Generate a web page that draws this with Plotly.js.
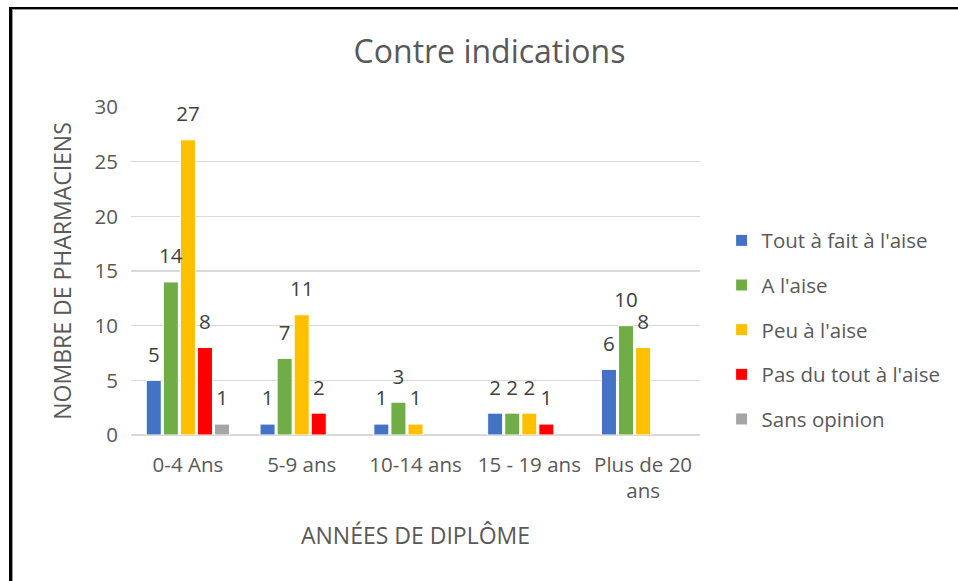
<!DOCTYPE html>
<html>
<head>
<meta charset="utf-8">
<script src="https://cdn.plot.ly/plotly-3.0.1.min.js"></script>
<style>
  html, body { margin: 0; padding: 0; background: #fff; }
  #wrap { position: relative; width: 958px; height: 581px; overflow: hidden; }
  #chart { width: 958px; height: 581px; }
  #frame { position: absolute; left: 9px; top: 7px; width: 960px; height: 590px;
           border-left: 3px solid #000; border-top: 2px solid #000;
           box-shadow: inset 1px 1px 0 #9a9a9a; pointer-events: none; }
</style>
</head>
<body>
<div id="wrap">
  <div id="chart"></div>
  <div id="frame"></div>
</div>
<script>
const categories = ["0-4 Ans", "5-9 ans", "10-14 ans", "15 - 19 ans", "Plus de 20<br>ans"];

const seriesNames = ["Tout à fait à l'aise", "A l'aise", "Peu à l'aise", "Pas du tout à l'aise", "Sans opinion"];

const toutAFaitALaise = [5, 1, 1, 2, 6];
const aLaise = [14, 7, 3, 2, 10];
const peuALaise = [27, 11, 1, 2, 8];
const pasDuToutALaise = [8, 2, 0, 1, 0];
const sansOpinion = [1, 0, 0, 0, 0];

const seriesValues = [toutAFaitALaise, aLaise, peuALaise, pasDuToutALaise, sansOpinion];
const seriesColors = ["#4472C4", "#70AD47", "#FFC000", "#FF0000", "#A5A5A5"];

const FONT = "Open Sans, sans-serif";
const TXT = "#595959";

const traces = [];
seriesValues.forEach((vals, i) => {
  traces.push({
    type: "bar",
    name: seriesNames[i],
    x: categories,
    y: vals.map(v => v === 0 ? null : v),
    offsetgroup: "g" + i,
    legendgroup: "g" + i,
    marker: { color: seriesColors[i], line: { color: "#ffffff", width: 1 } },
    hoverinfo: "skip"
  });
});
seriesValues.forEach((vals, i) => {
  traces.push({
    type: "scatter",
    mode: "markers+text",
    x: categories,
    y: vals,
    text: vals.map(v => v === 0 ? "" : String(v)),
    textposition: "top center",
    textfont: { family: FONT, size: 20.5, color: "#404040" },
    marker: { size: 20, color: "rgba(0,0,0,0)" },
    offsetgroup: "g" + i,
    legendgroup: "g" + i,
    showlegend: false,
    hoverinfo: "skip",
    cliponaxis: false
  });
});

const layout = {
  width: 958,
  height: 581,
  margin: { l: 131, r: 258, t: 107, b: 146 },
  paper_bgcolor: "#ffffff",
  plot_bgcolor: "#ffffff",
  barmode: "group",
  scattermode: "group",
  bargap: 0.25,
  bargroupgap: 0.12,
  scattergap: 0.25,
  font: { family: FONT, color: TXT, size: 20.5 },
  title: {
    text: "Contre indications",
    font: { family: FONT, size: 32, color: TXT },
    x: 0.511, xref: "container", xanchor: "center",
    y: 0.91, yref: "container", yanchor: "middle"
  },
  xaxis: {
    type: "category",
    tickfont: { family: FONT, size: 20.5, color: TXT },
    showgrid: false,
    showline: false,
    ticks: "",
    ticklabelstandoff: 15,
    title: { text: "ANNÉES DE DIPLÔME", font: { family: FONT, size: 23, color: TXT }, standoff: 24 }
  },
  yaxis: {
    range: [0, 30],
    dtick: 5,
    tick0: 0,
    showgrid: true,
    gridcolor: "#D9D9D9",
    gridwidth: 1.3,
    zeroline: true,
    zerolinecolor: "#D9D9D9",
    zerolinewidth: 1.3,
    showline: false,
    ticks: "",
    ticklabelstandoff: 12,
    tickfont: { family: FONT, size: 20.5, color: TXT },
    title: { text: "NOMBRE DE PHARMACIENS", font: { family: FONT, size: 23, color: TXT }, standoff: 16 },
    fixedrange: true
  },
  legend: {
    x: 1.038, xanchor: "left",
    y: 0.32, yanchor: "middle",
    traceorder: "grouped",
    tracegroupgap: 15,
    font: { family: FONT, size: 20.5, color: TXT },
    bgcolor: "rgba(0,0,0,0)"
  },
  showlegend: true
};

Plotly.newPlot("chart", traces, layout, { displayModeBar: false, staticPlot: true });
</script>
</body>
</html>
